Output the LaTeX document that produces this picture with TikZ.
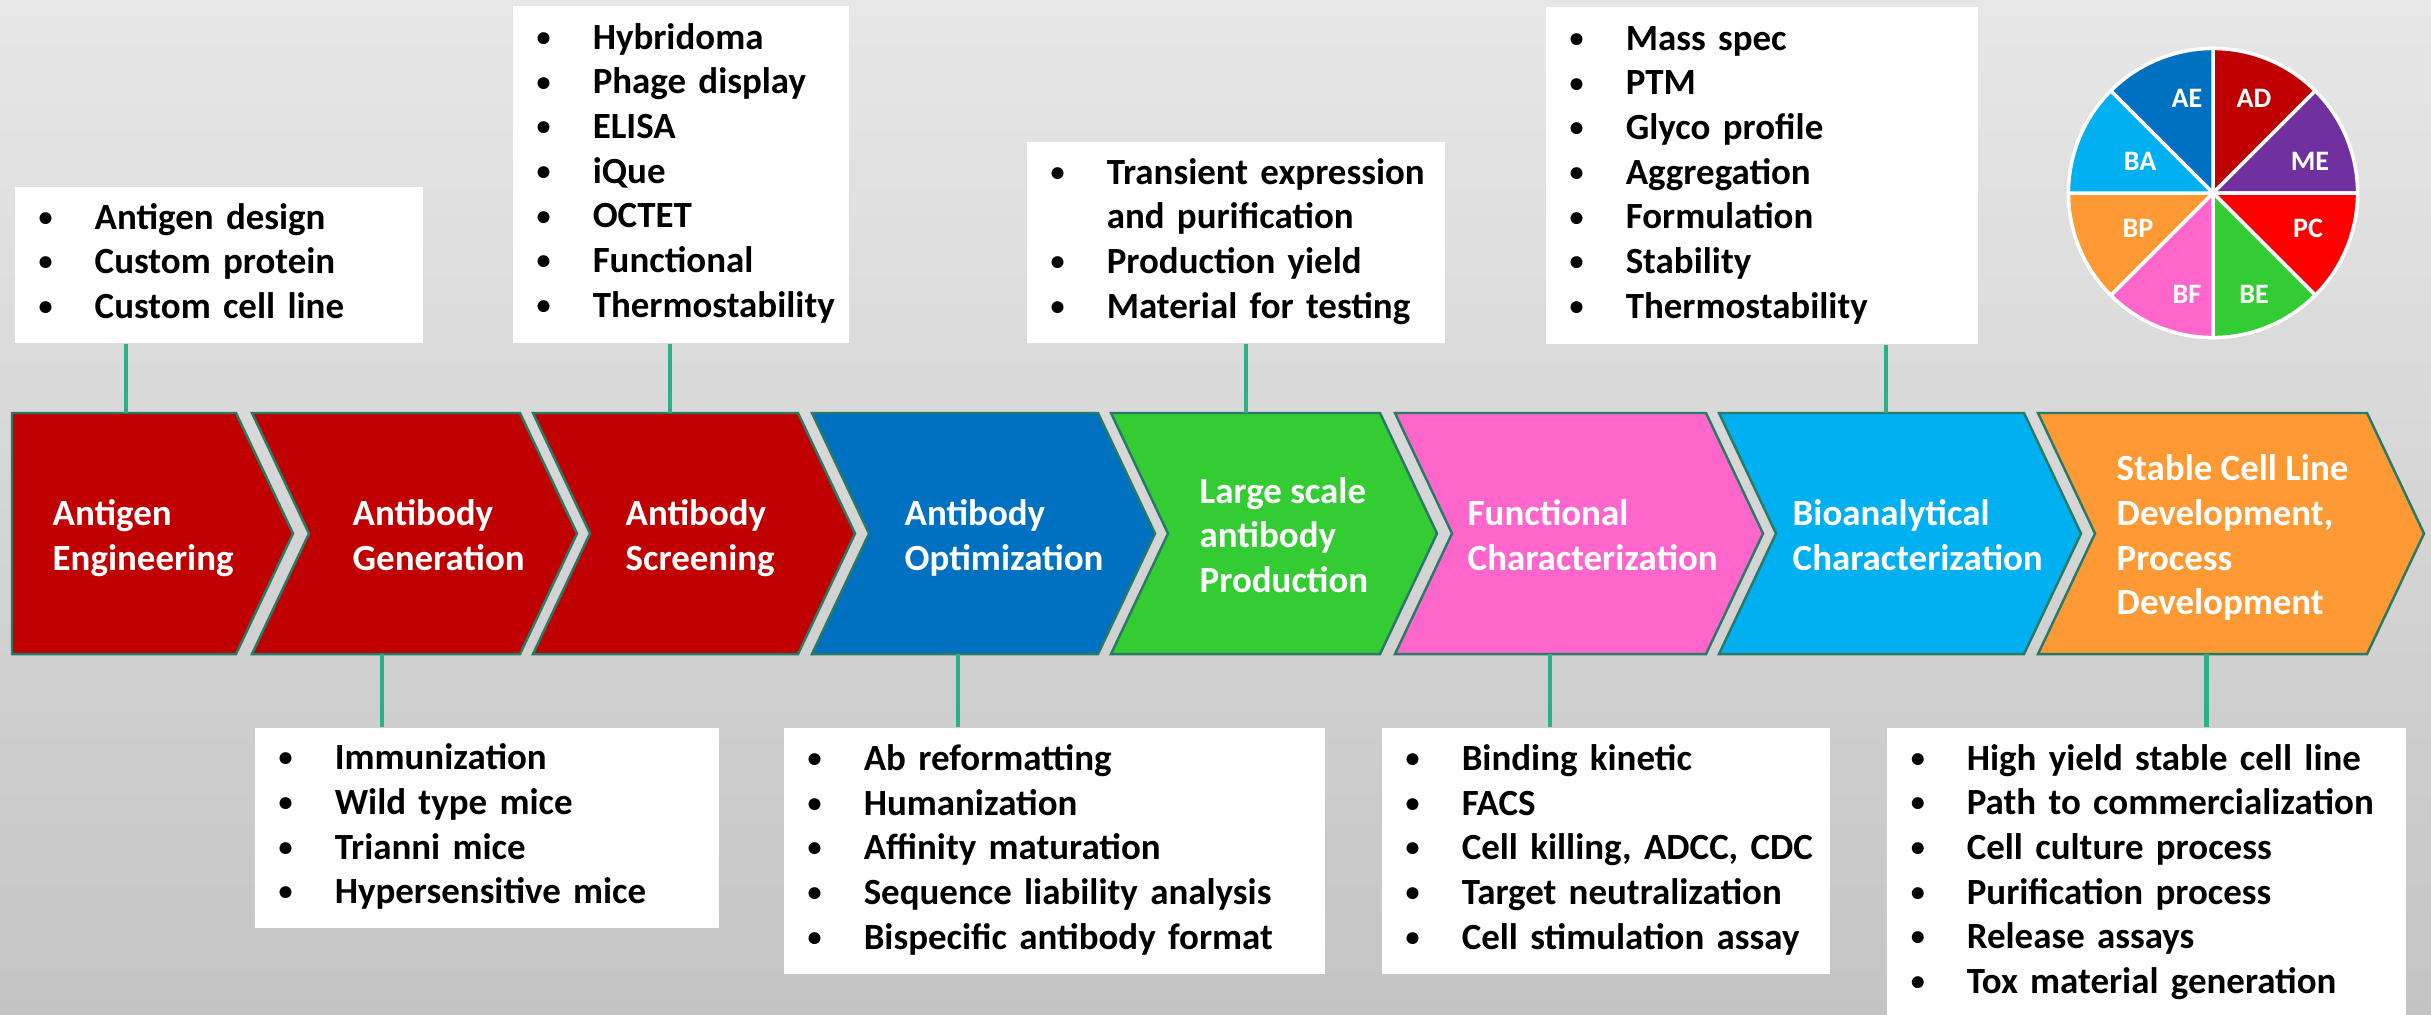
\documentclass[tikz,border=0pt]{standalone}
\usepackage{fontspec}
\setmainfont{Carlito}

\definecolor{bgtop}{RGB}{231,231,231}
\definecolor{bgmid}{RGB}{226,226,226}
\definecolor{bgbot}{RGB}{196,196,196}
\definecolor{antired}{HTML}{C00000}
\definecolor{abblue}{HTML}{0070C0}
\definecolor{lsgreen}{HTML}{33CC33}
\definecolor{fcpink}{HTML}{FF66CC}
\definecolor{bcblue}{HTML}{00B0F0}
\definecolor{scorange}{HTML}{FF9933}
\definecolor{mepurple}{HTML}{7030A0}
\definecolor{pcred}{HTML}{FF0000}
\definecolor{linkgreen}{RGB}{43,176,138}
\definecolor{edgegreen}{RGB}{40,122,102}

\newcommand{\stagename}[1]{\begin{tabular}{@{}l@{}}#1\end{tabular}}
\newcommand{\itemlist}[1]{\begin{tabular}{@{\hspace{.24cm}}p{.56cm}@{}l@{}}#1\end{tabular}}
\newcommand{\itm}{\raisebox{0.8pt}{\fontsize{8}{8}\selectfont\textbullet} &}

\begin{document}
\begin{tikzpicture}[x=0.01cm,y=-0.01cm,
  chev/.style={draw=edgegreen, line width=0.7pt, line join=miter},
  link/.style={draw=linkgreen, line width=1.4pt},
  stage/.style={anchor=west, inner sep=0pt, text=white,
    font=\bfseries\fontsize{10.5}{12.7}\selectfont},
  listbox/.style={anchor=north west, fill=white, inner sep=0pt, align=left,
    font=\bfseries\fontsize{10.5}{12.7}\selectfont},
  pielbl/.style={anchor=base, inner sep=0pt, text=white,
    font=\bfseries\fontsize{8}{9.6}\selectfont}]

\useasboundingbox (0,0) rectangle (2431,1014);
\clip (0,0) rectangle (2431,1014);
\shade[top color=bgtop, middle color=bgmid, bottom color=bgbot] (0,0) rectangle (2431,1014);

% connector ends on the arrows
  \coordinate (p1) at (126,413);
  \coordinate (p2) at (382,654);
  \coordinate (p3) at (670,413);
  \coordinate (p4) at (958,654);
  \coordinate (p5) at (1246,413);
  \coordinate (p6) at (1550,654);
  \coordinate (p7) at (1886,413);
  \coordinate (p8) at (2206,654);

% arrows
  \filldraw[chev, fill=antired] (12,413) -- (236,413) -- (293,533.5) -- (236,654) -- (12,654) -- cycle;
  \foreach \l/\r/\c in {252/520/antired, 533/798/antired, 812/1098/abblue,
      1111/1380/lsgreen, 1395/1706/fcpink, 1719/2024/bcblue, 2038/2367/scorange}
    \filldraw[chev, fill=\c] (\l,413) -- (\r,413) -- (\r+57,533.5) -- (\r,654)
      -- (\l,654) -- (\l+57,533.5) -- cycle;

  \node[stage] (s1) at (52,539) {\stagename{Antigen\\Engineering}};
  \node[stage] (s2) at (352,539) {\stagename{Antibody\\Generation}};
  \node[stage] (s3) at (625,539) {\stagename{Antibody\\Screening}};
  \node[stage] (s4) at (904,539) {\stagename{Antibody\\Optimization}};
  \node[stage] (s5) at (1199,539) {\stagename{Large scale\\antibody\\Production}};
  \node[stage] (s6) at (1467,539) {\stagename{Functional\\Characterization}};
  \node[stage] (s7) at (1792,539) {\stagename{Bioanalytical\\Characterization}};
  \node[stage] (s8) at (2116,539) {\stagename{Stable Cell Line\\Development,\\Process\\Development}};

% lists
  \node[listbox, minimum height=1.56cm, text width=4.08cm] (t1) at (14,186)
    {\itemlist{\itm Antigen design\\ \itm Custom protein\\ \itm Custom cell line}};
  \node[listbox, minimum height=3.37cm, text width=3.36cm] (t2) at (512,5)
    {\itemlist{\itm Hybridoma\\ \itm Phage display\\ \itm ELISA\\ \itm iQue\\
      \itm OCTET\\ \itm Functional\\ \itm Thermostability}};
  \node[listbox, minimum height=2.01cm, text width=4.18cm] (t3) at (1026,141)
    {\itemlist{\itm Transient expression\\ & and purification\\
      \itm Production yield\\ \itm Material for testing}};
  \node[listbox, minimum height=3.37cm, text width=4.32cm] (t4) at (1545,6)
    {\itemlist{\itm Mass spec\\ \itm PTM\\ \itm Glyco profile\\ \itm Aggregation\\
      \itm Formulation\\ \itm Stability\\ \itm Thermostability}};
  \node[listbox, minimum height=2.00cm, text width=4.64cm] (b1) at (254,727)
    {\itemlist{\itm Immunization\\ \itm Wild type mice\\ \itm Trianni mice\\
      \itm Hypersensitive mice}};
  \node[listbox, minimum height=2.46cm, text width=5.41cm] (b2) at (783,727)
    {\itemlist{\itm Ab reformatting\\ \itm Humanization\\ \itm Affinity maturation\\
      \itm Sequence liability analysis\\ \itm Bispecific antibody format}};
  \node[listbox, minimum height=2.46cm, text width=4.48cm] (b3) at (1381,727)
    {\itemlist{\itm Binding kinetic\\ \itm FACS\\ \itm Cell killing, ADCC, CDC\\
      \itm Target neutralization\\ \itm Cell stimulation assay}};
  \node[listbox, minimum height=2.90cm, text width=5.19cm] (b4) at (1886,727)
    {\itemlist{\itm High yield stable cell line\\ \itm Path to commercialization\\
      \itm Cell culture process\\ \itm Purification process\\ \itm Release assays\\
      \itm Tox material generation}};

  \draw[link] (t1.south -| p1) -- (p1);
  \draw[link] (b1.north -| p2) -- (p2);
  \draw[link] (t2.south -| p3) -- (p3);
  \draw[link] (b2.north -| p4) -- (p4);
  \draw[link] (t3.south -| p5) -- (p5);
  \draw[link] (b3.north -| p6) -- (p6);
  \draw[link] (t4.south -| p7) -- (p7);
  \draw[link] (b4.north -| p8) -- (p8);

% legend pie
\begin{scope}[shift={(2213,193)}, x=1cm, y=1cm]
  \foreach \a/\c in {90/antired, 45/mepurple, 0/pcred, -45/lsgreen,
      -90/fcpink, -135/scorange, 180/bcblue, 135/abblue}
    \filldraw[fill=\c, draw=white, line width=1pt] (0,0) -- (\a-45:1.445)
      arc[start angle=\a-45, end angle=\a, radius=1.445] -- cycle;
\end{scope}
  \node[pielbl] (ae) at (2187,107) {AE};
  \node[pielbl] (ad) at (2254,107) {AD};
  \node[pielbl] (me) at (2310,170) {ME};
  \node[pielbl] (pc) at (2308,237) {PC};
  \node[pielbl] (be) at (2254,303) {BE};
  \node[pielbl] (bf) at (2187,303) {BF};
  \node[pielbl] (bp) at (2138,237) {BP};
  \node[pielbl] (ba) at (2140,170) {BA};
\end{tikzpicture}
\end{document}
